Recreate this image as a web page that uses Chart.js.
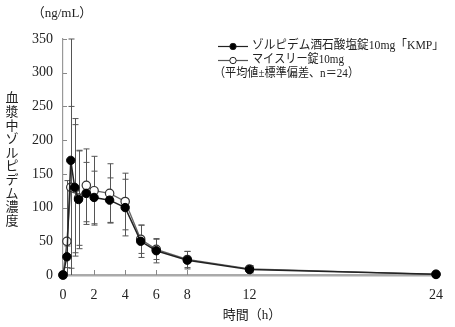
<!DOCTYPE html>
<html lang="ja">
<head>
<meta charset="utf-8">
<title>血漿中ゾルピデム濃度</title>
<script src="https://cdn.jsdelivr.net/npm/chart.js@4.4.1/dist/chart.umd.min.js"></script>
<style>
    html, body { margin: 0; padding: 0; background: #fff; }
    #wrap { width: 455px; height: 327px; }
</style>
</head>
<body>
<div id="wrap"><canvas id="pkChart" width="455" height="327"></canvas></div>
<script>
// Data
const times = [0, 0.25, 0.5, 0.75, 1, 1.5, 2, 3, 4, 5, 6, 8, 12, 24];
const kmpMean = [0, 27, 170, 130, 112, 121, 115, 111, 100, 50, 36, 22, 8, 1];
const kmpSd = [0, 16, 180, 102, 73, 46, 39, 33, 42, 24, 18, 13, 5, 1];
const myslMean = [0, 50, 130, 128, 114, 133, 125, 121, 109, 53, 38, 23, 9, 1];
const myslSd = [0, 90, 120, 95, 70, 54, 51, 44, 42, 21, 15, 12, 5, 1];
const xTicks = [0, 2, 4, 6, 8, 12, 24];
const yTicks = [0, 50, 100, 150, 200, 250, 300, 350];

const seriesNames = ['ゾルピデム酒石酸塩錠10mg「KMP」', 'マイスリー錠10mg'];
const noteText = '（平均値±標準偏差、n＝24）';
const yTitle = '血漿中ゾルピデム濃度';
const unitText = '（ng/mL）';
const xTitle = '時間（h）';

const FONT = '"Liberation Serif", "DejaVu Serif", "Noto Sans CJK JP", serif';

function toPoints(values) {
    return times.map((t, i) => ({ x: t, y: values[i] }));
}

// Error bars, inward ticks, titles and the legend block
const decorPlugin = {
    id: 'decor',
    beforeDatasetsDraw(chart) {
        const ctx = chart.ctx;
        const xs = chart.scales.x;
        const ys = chart.scales.y;
        const sets = [[kmpMean, kmpSd], [myslMean, myslSd]];

        ctx.save();
        ctx.strokeStyle = '#555';
        ctx.lineWidth = 1;
        sets.forEach(([mean, sd]) => {
            times.forEach((t, i) => {
                if (!sd[i]) return;
                const x = Math.round(xs.getPixelForValue(t)) + 0.5;
                const hi = Math.min(mean[i] + sd[i], 350);
                const lo = mean[i] - sd[i];
                const yHi = ys.getPixelForValue(hi);
                const yLo = ys.getPixelForValue(Math.max(lo, 0));
                ctx.beginPath();
                ctx.moveTo(x, yHi);
                ctx.lineTo(x, yLo);
                ctx.moveTo(x - 3, yHi);
                ctx.lineTo(x + 3, yHi);
                if (lo > 0) {
                    ctx.moveTo(x - 3, yLo);
                    ctx.lineTo(x + 3, yLo);
                }
                ctx.stroke();
            });
        });

        // inward tick marks
        ctx.strokeStyle = '#888';
        ctx.lineWidth = 1;
        const area = chart.chartArea;
        ctx.beginPath();
        xTicks.forEach(v => {
            const x = Math.round(xs.getPixelForValue(v)) + 0.5;
            ctx.moveTo(x, area.bottom);
            ctx.lineTo(x, area.bottom - 5);
        });
        yTicks.forEach(v => {
            const y = Math.round(ys.getPixelForValue(v)) + 0.5;
            ctx.moveTo(area.left, y);
            ctx.lineTo(area.left + 4, y);
        });
        ctx.stroke();
        ctx.restore();
    },
    afterDraw(chart) {
        const ctx = chart.ctx;
        ctx.save();
        ctx.fillStyle = '#222';
        ctx.font = '13px ' + FONT;
        ctx.textBaseline = 'middle';

        // unit above the y axis
        ctx.textAlign = 'center';
        ctx.fillText(unitText, 62, 14);

        // vertical y title
        [...yTitle].forEach((ch, i) => {
            ctx.fillText(ch, 12, 99 + i * 13.6);
        });

        // x title
        ctx.fillText(xTitle, 252, 316);

        // legend block
        const rows = [
            { y: 46, fill: '#000', line: '#222', w: 192 },
            { y: 60, fill: '#fff', line: '#555', w: 92 }
        ];
        ctx.font = '12.5px ' + FONT;
        rows.forEach((r, i) => {
            ctx.strokeStyle = r.line;
            ctx.lineWidth = 1.2;
            ctx.beginPath();
            ctx.moveTo(218, r.y + 0.5);
            ctx.lineTo(248, r.y + 0.5);
            ctx.stroke();
            ctx.beginPath();
            ctx.arc(233, r.y + 0.5, 3.2, 0, Math.PI * 2);
            ctx.fillStyle = r.fill;
            ctx.fill();
            ctx.strokeStyle = '#222';
            ctx.lineWidth = 1;
            ctx.stroke();
            ctx.fillStyle = '#222';
            ctx.textAlign = 'left';
            ctx.fillText(seriesNames[i], 252, r.y, r.w);
        });
        ctx.textAlign = 'left';
        ctx.fillText(noteText, 214, 74, 145);
        ctx.restore();
    }
};

const chart = new Chart(document.getElementById('pkChart'), {
    type: 'line',
    data: {
        datasets: [
            {
                label: seriesNames[0],
                data: toPoints(kmpMean),
                borderColor: '#222',
                borderWidth: 1.5,
                pointRadius: 4.2,
                pointBackgroundColor: '#000',
                pointBorderColor: '#000',
                pointBorderWidth: 1,
                tension: 0,
                clip: false
            },
            {
                label: seriesNames[1],
                data: toPoints(myslMean),
                borderColor: '#666',
                borderWidth: 1.3,
                pointRadius: 4.2,
                pointBackgroundColor: '#fff',
                pointBorderColor: '#333',
                pointBorderWidth: 1.2,
                tension: 0,
                clip: false
            }
        ]
    },
    options: {
        responsive: false,
        animation: false,
        layout: { padding: { left: 0, right: 13, top: 39, bottom: 0 } },
        plugins: {
            legend: { display: false },
            tooltip: { enabled: false }
        },
        scales: {
            x: {
                type: 'linear',
                min: 0,
                max: 24,
                afterBuildTicks: scale => { scale.ticks = xTicks.map(v => ({ value: v })); },
                afterFit: scale => { scale.height = 52; },
                grid: { display: false, drawTicks: false },
                border: { color: '#aaa', width: 2.5 },
                ticks: {
                    padding: 12,
                    color: '#222',
                    maxRotation: 0,
                    autoSkip: false,
                    font: { family: FONT, size: 14 }
                }
            },
            y: {
                min: 0,
                max: 350,
                afterBuildTicks: scale => { scale.ticks = yTicks.map(v => ({ value: v })); },
                afterFit: scale => { scale.width = 63; },
                grid: { display: false, drawTicks: false },
                border: { color: '#999', width: 1.2 },
                ticks: {
                    padding: 10,
                    color: '#222',
                    font: { family: FONT, size: 14 }
                }
            }
        }
    },
    plugins: [decorPlugin]
});
</script>
</body>
</html>
